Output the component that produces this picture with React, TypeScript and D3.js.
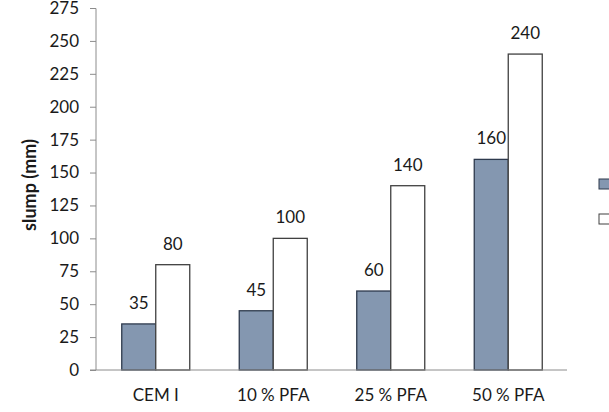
import React, { useEffect, useRef } from "react";
import { axisLeft, range, scaleBand, scaleLinear, select } from "d3";

const categories = ["CEM I", "10 % PFA", "25 % PFA", "50 % PFA"];
const seriesNames = ["A", "B"];
const seriesA = [35, 45, 60, 160];
const seriesB = [80, 100, 140, 240];
const yTicks = range(0, 276, 25);

const width = 609;
const height = 412;
const fills = ["#8497b0", "#ffffff"];
const strokes = ["#2e3a4d", "#404040"];
const font = "Lato, 'Open Sans', sans-serif";
const fontSize = 17;

export default function App() {
  const svgRef = useRef<SVGSVGElement | null>(null);

  useEffect(() => {
    const svg = select(svgRef.current);
    svg.selectAll("*").remove();

    const x = scaleBand<string>().domain(categories).range([97, 567]);
    const sub = scaleBand<string>()
      .domain(seriesNames)
      .range([x.bandwidth() / 2 - 34, x.bandwidth() / 2 + 34]);
    const y = scaleLinear().domain([0, 275]).range([370, 8]);

    // y axis
    const ya = svg
      .append("g")
      .attr("transform", "translate(96,0)")
      .call(axisLeft(y).tickValues(yTicks).tickSize(6).tickPadding(11));
    ya.select(".domain").attr("stroke", "#8c8c8c").attr("d", "M-6,8.5H0V370");
    ya.selectAll(".tick line").attr("stroke", "#8c8c8c");
    ya.selectAll(".tick text")
      .attr("font-family", font)
      .attr("font-size", fontSize)
      .attr("fill", "#1a1a1a");

    const series = [seriesA, seriesB];
    series.forEach((vals, si) => {
      const g = svg.append("g");
      g.selectAll("rect")
        .data(vals)
        .join("rect")
        .attr("x", (_, i) => (x(categories[i]) as number) + (sub(seriesNames[si]) as number))
        .attr("y", (d) => y(d))
        .attr("width", sub.bandwidth())
        .attr("height", (d) => y(0) - y(d))
        .attr("fill", fills[si])
        .attr("stroke", strokes[si])
        .attr("stroke-width", 1.3);
      g.selectAll("text")
        .data(vals)
        .join("text")
        .attr(
          "x",
          (_, i) =>
            (x(categories[i]) as number) + (sub(seriesNames[si]) as number) + sub.bandwidth() / 2
        )
        .attr("y", (d) => y(d) - 15)
        .attr("text-anchor", "middle")
        .attr("font-family", font)
        .attr("font-size", fontSize)
        .attr("fill", "#1a1a1a")
        .text((d) => d);
    });

    // x axis line
    svg
      .append("line")
      .attr("x1", 90)
      .attr("x2", 567)
      .attr("y1", y(0))
      .attr("y2", y(0))
      .attr("stroke", "#8c8c8c");

    svg
      .append("g")
      .selectAll("text")
      .data(categories)
      .join("text")
      .attr("x", (d) => (x(d) as number) + x.bandwidth() / 2)
      .attr("y", 401)
      .attr("text-anchor", "middle")
      .attr("font-family", font)
      .attr("font-size", fontSize)
      .attr("fill", "#1a1a1a")
      .text((d) => d);

    svg
      .append("text")
      .attr("transform", "translate(36,185) rotate(-90)")
      .attr("text-anchor", "middle")
      .attr("font-family", font)
      .attr("font-size", 18)
      .attr("font-weight", "bold")
      .attr("fill", "#1a1a1a")
      .text("slump (mm)");

    // legend swatches
    svg
      .append("g")
      .selectAll("rect")
      .data(seriesNames)
      .join("rect")
      .attr("x", 599)
      .attr("y", (_, i) => 179 + i * 35)
      .attr("width", 11)
      .attr("height", 10)
      .attr("fill", (_, i) => fills[i])
      .attr("stroke", (_, i) => strokes[i]);
  }, []);

  return (
    <svg
      ref={svgRef}
      width={width}
      height={height}
      style={{ position: "absolute", left: 0, top: 0, background: "#fff" }}
    />
  );
}
